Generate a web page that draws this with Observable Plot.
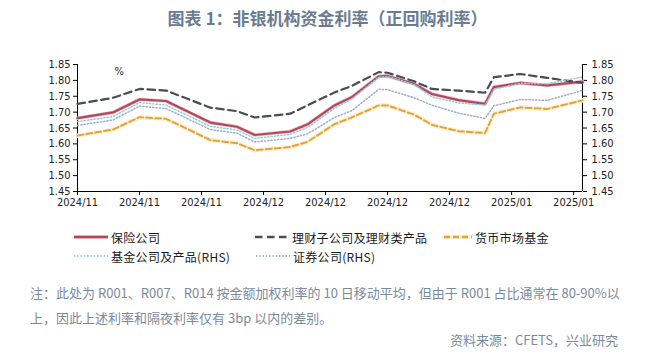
<!DOCTYPE html>
<html><head><meta charset="utf-8">
<script src="https://cdn.jsdelivr.net/npm/d3@7"></script>
<script src="https://cdn.jsdelivr.net/npm/@observablehq/plot@0.6"></script>
<style>
html,body{margin:0;padding:0;background:#fff;}
body{width:655px;height:358px;position:relative;overflow:hidden;font-family:"Noto Sans CJK SC","Noto Sans",sans-serif;}
#title{position:absolute;left:0;top:6px;width:655px;text-align:center;font-size:17px;font-weight:700;color:#6b7c90;line-height:24px;white-space:nowrap;}
#chart{position:absolute;left:0;top:36px;}
.leg{position:absolute;height:16px;display:flex;align-items:center;font-size:12px;color:#1a1a1a;white-space:nowrap;letter-spacing:0.3px;}
.leg svg{display:block;margin-right:3px;}
.note{position:absolute;left:30px;font-size:13px;color:#7b8a9b;line-height:20px;white-space:nowrap;}
#src{position:absolute;right:37px;top:330px;font-size:13px;color:#7b8a9b;line-height:20px;white-space:nowrap;}
</style>
</head><body>
<div id="title">图表 1：非银机构资金利率（正回购利率）</div>
<div id="chart"></div>
<div id="legend"></div>
<div class="note" style="top:283px">注：此处为 R001、R007、R014 按金额加权利率的 10 日移动平均，但由于 R001 占比通常在 80-90%以</div>
<div class="note" style="top:308px">上，因此上述利率和隔夜利率仅有 3bp 以内的差别。</div>
<div id="src">资料来源：CFETS，兴业研究</div>
<script>
// x: day offset from the first observation
const days       = [0, 4, 7, 10, 15, 18, 20, 24, 26, 29, 31, 34, 35, 38, 40, 43, 46, 47, 50, 53, 57];
const insurance  = [1.681,1.699,1.740,1.735,1.667,1.654,1.628,1.639,1.662,1.721,1.748,1.813,1.814,1.789,1.757,1.738,1.726,1.779,1.792,1.784,1.796];
const wealth     = [1.726,1.745,1.773,1.768,1.714,1.703,1.683,1.695,1.722,1.762,1.783,1.826,1.824,1.797,1.773,1.768,1.761,1.810,1.820,1.808,1.792];
const mmf        = [1.626,1.645,1.684,1.679,1.612,1.602,1.580,1.590,1.607,1.662,1.684,1.721,1.721,1.692,1.660,1.640,1.634,1.695,1.715,1.710,1.737];
const fund       = [1.670,1.686,1.730,1.722,1.655,1.644,1.617,1.630,1.652,1.712,1.742,1.810,1.812,1.787,1.748,1.729,1.722,1.772,1.791,1.789,1.811];
const securities = [1.658,1.675,1.719,1.711,1.645,1.634,1.606,1.617,1.632,1.683,1.705,1.772,1.771,1.745,1.722,1.697,1.680,1.720,1.740,1.737,1.768];

const xTickDays   = [0, 7, 14, 21, 28, 35, 42, 49, 56];
const xTickLabels = ["2024/11","2024/11","2024/11","2024/12","2024/12","2024/12","2024/12","2025/01","2025/01"];
const yTicks      = [1.45,1.50,1.55,1.60,1.65,1.70,1.75,1.80,1.85];
const xDomain     = [0, 57];
const yDomain     = [1.45, 1.85];

const seriesNames = ["保险公司","理财子公司及理财类产品","货币市场基金","基金公司及产品(RHS)","证券公司(RHS)"];
const seriesKeys  = ["insurance","wealth","mmf","fund","securities"];

const table = days.map((d, i) => ({
  day: d, insurance: insurance[i], wealth: wealth[i], mmf: mmf[i], fund: fund[i], securities: securities[i]
}));

const styles = {
  insurance:  {stroke:"#b4475a", strokeWidth:2.2, halo:"#ecc3cb", haloWidth:3.6},
  wealth:     {stroke:"#474d56", strokeWidth:2.2, strokeDasharray:"7.5,4.5"},
  mmf:        {stroke:"#e0a53c", strokeWidth:2.0, strokeDasharray:"6,3", halo:"#fcf1d6", haloWidth:4.5},
  fund:       {stroke:"#8ecfdc", strokeWidth:1.5, strokeDasharray:"1.3,2"},
  securities: {stroke:"#9cb0ca", strokeWidth:1.5, strokeDasharray:"1.3,2"}
};

const lineMarks = [];
for (const k of seriesKeys) {
  const s = styles[k];
  if (s.halo) lineMarks.push(Plot.line(table, {x:"day", y:k, stroke:s.halo, strokeWidth:s.haloWidth, strokeLinejoin:"round"}));
  lineMarks.push(Plot.line(table, {x:"day", y:k, stroke:s.stroke, strokeWidth:s.strokeWidth, strokeDasharray:s.strokeDasharray, strokeLinejoin:"round"}));
}

const fmt = d3.format(".2f");
const chart = Plot.plot({
  width: 655, height: 180,
  marginTop: 28, marginBottom: 25, marginLeft: 77, marginRight: 73,
  x: {type:"linear", domain:xDomain, label:null},
  y: {domain:yDomain, label:null},
  style: {fontFamily:'"DejaVu Sans Condensed","DejaVu Sans",sans-serif', fontSize:"11px", color:"#222", background:"transparent", fontStretch:"condensed"},
  marks: [
    Plot.axisY(yTicks, {anchor:"left", tickFormat:fmt, tickSize:4, tickPadding:3, stroke:"#000", label:null}),
    Plot.axisY(yTicks, {anchor:"right", tickFormat:fmt, tickSize:4, tickPadding:5, stroke:"#000", label:null}),
    Plot.axisX(xTickDays, {anchor:"bottom", tickFormat:d => xTickLabels[xTickDays.indexOf(d)], tickSize:4, tickPadding:3, stroke:"#000", label:null}),
    Plot.ruleX(xDomain, {stroke:"#000", strokeWidth:1}),
    Plot.ruleY([yDomain[0]], {stroke:"#000", strokeWidth:1}),
    ...lineMarks,
    Plot.text(["%"], {frameAnchor:"top-left", dx:37, dy:3, fontSize:11, fill:"#222"})
  ]
});
document.getElementById("chart").appendChild(chart);

// legend
const legendPos = [
  {left:74, top:229, sw:34},
  {left:255, top:229, sw:34},
  {left:444, top:229, sw:28},
  {left:74, top:248, sw:34},
  {left:256, top:248, sw:34}
];
const legend = document.getElementById("legend");
seriesKeys.forEach((k, i) => {
  const s = styles[k], p = legendPos[i];
  const div = document.createElement("div");
  div.className = "leg";
  div.style.left = p.left + "px";
  div.style.top = p.top + "px";
  const dash = s.strokeDasharray ? `stroke-dasharray="${s.strokeDasharray}"` : "";
  const halo = s.halo ? `<line x1="0" y1="4" x2="${p.sw}" y2="4" stroke="${s.halo}" stroke-width="${s.haloWidth}"/>` : "";
  div.innerHTML = `<svg width="${p.sw}" height="8">${halo}<line x1="0" y1="4" x2="${p.sw}" y2="4" stroke="${s.stroke}" stroke-width="${s.strokeWidth + 0.4}" ${dash}/></svg><span>${seriesNames[i]}</span>`;
  legend.appendChild(div);
});
</script>
</body></html>
